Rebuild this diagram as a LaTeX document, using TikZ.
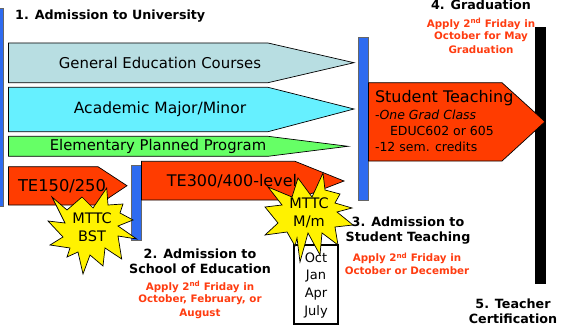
\documentclass[tikz,border=0pt]{standalone}
\usepackage{fontspec}
\setmainfont{DejaVu Sans}
\definecolor{teal1}{HTML}{B8DEE2}
\definecolor{cyan1}{HTML}{66F0FF}
\definecolor{green1}{HTML}{66FF66}
\definecolor{red1}{HTML}{FF3C00}
\definecolor{blue1}{HTML}{2E6BF0}
\definecolor{txtred}{HTML}{FF3C10}
\tikzset{
  arrowshape/.style={draw=black,line width=0.7pt,line join=miter},
  barshape/.style={fill=blue1,draw=black!60,line width=0.6pt},
  burst/.style={fill=yellow,draw=black,line width=0.7pt,line join=miter},
  lab/.style={inner sep=0pt,outer sep=0pt,align=center,font=\fontsize{15.5}{17}\selectfont},
  lableft/.style={lab,anchor=west,align=left},
  head/.style={inner sep=0pt,align=center,font=\fontsize{12.7}{14}\selectfont\bfseries},
  note/.style={inner sep=0pt,align=center,text=txtred,font=\fontsize{10.3}{11}\selectfont\bfseries},
  mon/.style={inner sep=0pt,font=\fontsize{13}{14}\selectfont},
  mt/.style={inner sep=0pt,font=\fontsize{14.5}{16}\selectfont},
}
\begin{document}
\begin{tikzpicture}[x=1pt,y=-1pt]
\useasboundingbox (0,0) rectangle (569,326);
\fill[white] (0,0) rectangle (569,326);
% bars
\path[barshape] (-3,8) rectangle (3.3,206);
\fill[black] (535,27) rectangle (546,284);
\path[barshape] (358,37.7) rectangle (368.5,200);
\path[barshape] (131.5,165.7) rectangle (141.5,240);
% arrows
\path[arrowshape,fill=teal1] (8.5,43) -- (268,43) -- (354,62.7) -- (268,82.7) -- (8.5,82.7) -- cycle;
\path[arrowshape,fill=cyan1] (8.5,87.3) -- (268,87.3) -- (354,109) -- (268,131.7) -- (8.5,131.7) -- cycle;
\path[arrowshape,fill=green1] (8.5,136.3) -- (268,136.3) -- (348,146.3) -- (268,156.3) -- (8.5,156.3) -- cycle;
\path[arrowshape,fill=red1] (368.5,82.7) -- (502,82.7) -- (545,121.7) -- (502,161) -- (368.5,161) -- cycle;
\path[arrowshape,fill=red1] (8.5,166.7) -- (98,166.7) -- (127,185.7) -- (98,205) -- (8.5,205) -- cycle;
\path[arrowshape,fill=red1] (141.5,161.3) -- (295,161.3) -- (344,181) -- (295,200) -- (141.5,200) -- cycle;
% labels under bursts
\node[lab,font=\fontsize{14.9}{17}\selectfont] (gened) at (160,63) {General Education Courses};
\node[lab] (major) at (160,109) {Academic Major/Minor};
\node[lab,font=\fontsize{14.8}{16}\selectfont] (elem) at (158,146) {Elementary Planned Program};
\node[lableft,font=\fontsize{16}{18}\selectfont] (st) at (375,98) {Student Teaching};
\node[lableft,font=\fontsize{12.5}{14}\selectfont] (st1) at (375,115) {-\textit{One Grad Class}};
\node[lableft,font=\fontsize{12.5}{14}\selectfont] (st2) at (390,131) {EDUC602 or 605};
\node[lableft,font=\fontsize{12.5}{14}\selectfont] (st3) at (375,147) {-12 sem. credits};
\node[lab,font=\fontsize{16.3}{18}\selectfont] (te1) at (62,186) {TE150/250};
\node[lab,font=\fontsize{16}{18}\selectfont] (te3) at (232,181) {TE300/400-level};
% box
\node[draw=black,line width=1.6pt,minimum width=44pt,minimum height=79pt,inner sep=0pt] (months) at (316,284.5) {};
\node[mon] (oct) at (316,258) {Oct};
\node[mon] (jan) at (316,276) {Jan};
\node[mon] (apr) at (316,294) {Apr};
\node[mon] (jul) at (316,312) {July};
% bursts
\path[burst] (106.7,188) -- (108,205) -- (123,204) -- (120,213) -- (133,220) -- (118,226) -- (136.7,239) -- (118,236) -- (121.7,259) -- (105,248) -- (103,266) -- (90,255) -- (83,274) -- (78,252) -- (67,257) -- (70,248) -- (50,245) -- (63,237) -- (48,221) -- (65,223) -- (52,197) -- (67,210) -- (82,197) -- (93,208) -- cycle;
\path[burst] (323,173) -- (325,190) -- (340,194) -- (335,203) -- (352,208) -- (337,212) -- (353,225) -- (335,227) -- (338,245) -- (322,233) -- (320,255) -- (308,233) -- (300,262) -- (297,238) -- (295,246) -- (287,232) -- (265,235) -- (278,223) -- (265,207) -- (282,205) -- (268,187) -- (292,197) -- (298,178) -- (312,197) -- cycle;
\node[mt] (m1) at (92,218) {MTTC};
\node[mt] (m2) at (92,236) {BST};
\node[mt] (m3) at (309,203) {MTTC};
\node[mt] (m4) at (309,222) {M/m};
% headings
\node[head,anchor=west] (h1) at (15,16) {1. Admission to University};
\node[head] (h2) at (200,261) {2. Admission to\\[1pt]School of Education};
\node[head] (h3) at (408,231) {3. Admission to\\[1pt]Student Teaching};
\node[head] (h4) at (481,5) {4. Graduation};
\node[head] (h5) at (513,311) {5. Teacher\\[1pt]Certification};
\node[note] (n2) at (200,300) {Apply 2\textsuperscript{nd} Friday in\\[1.5pt]October, February, or\\[3pt]August};
\node[note] (n3) at (407,263.5) {Apply 2\textsuperscript{nd} Friday in\\[1.5pt]October or December};
\node[note] (n4) at (481,36) {Apply 2\textsuperscript{nd} Friday in\\[1.5pt]October for May\\[3pt]Graduation};
\end{tikzpicture}
\end{document}
